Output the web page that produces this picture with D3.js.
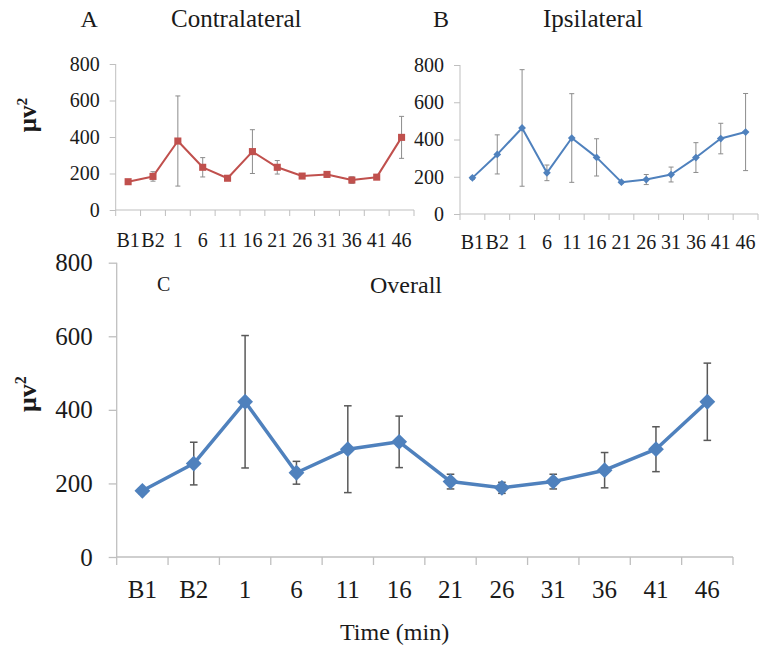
<!DOCTYPE html>
<html><head><meta charset="utf-8">
<script src="https://cdn.jsdelivr.net/npm/d3@7"></script>
<style>body{margin:0;background:#fff} svg text{font-family:'Liberation Serif','Times New Roman',serif;}</style></head>
<body>
<svg id="chart" width="761" height="649"></svg>
<script>
const categories = ["B1","B2","1","6","11","16","21","26","31","36","41","46"];
const yTickValues = [0,200,400,600,800];

const contralateralMean = [155, 184, 378, 234, 174, 320, 234, 186, 195, 164, 180, 398];
const contralateralErr  = [8, 26, 247, 53, 8, 120, 37, 8, 14, 18, 8, 115];

const ipsilateralMean = [194, 320, 462, 221, 408, 304, 171, 185, 212, 303, 405, 440];
const ipsilateralErr  = [8, 105, 313, 42, 238, 100, 5, 27, 40, 80, 82, 207];

const overallMean = [180, 254, 422, 229, 293, 313, 205, 188, 205, 236, 293, 422];
const overallErr  = [8, 58, 180, 31, 118, 70, 20, 15, 20, 48, 61, 105];

const serif = "'Liberation Serif','Times New Roman',serif";
const axisColor = "#bfbfbf";
const textColor = "#1a1a1a";
const svg = d3.select("#chart");

function panel(o){
  const g = svg.append("g");
  const x = d3.scaleBand().domain(categories).range([o.x0, o.x1]);
  const y = d3.scaleLinear().domain([0, 800]).range([o.yb, o.yt]);

  // y axis ticks + labels
  const ya = g.append("g").attr("transform", `translate(${o.x0},0)`)
    .call(d3.axisLeft(y).tickValues(yTickValues).tickSize(o.tick).tickPadding(o.ypad).tickSizeOuter(0));
  ya.attr("font-family", serif).attr("font-size", o.fs);
  ya.select(".domain").remove();
  ya.selectAll("line").attr("stroke", axisColor).attr("stroke-width", o.aw);
  ya.selectAll("text").style("font-family", serif).style("font-size", o.fs + "px").attr("fill", textColor);

  // axis lines
  g.append("line").attr("x1", o.x0).attr("x2", o.x0).attr("y1", y(0)).attr("y2", y(800))
    .attr("stroke", axisColor).attr("stroke-width", o.aw);
  g.append("line").attr("x1", o.x0).attr("x2", x.range()[1]).attr("y1", y(0)).attr("y2", y(0))
    .attr("stroke", axisColor).attr("stroke-width", o.aw);

  // x boundary ticks
  const bounds = categories.map(c => x(c)).concat([x.range()[1]]);
  g.selectAll(".xb").data(bounds).join("line")
    .attr("x1", d => d).attr("x2", d => d).attr("y1", y(0)).attr("y2", y(0) + o.tick)
    .attr("stroke", axisColor).attr("stroke-width", o.aw);

  // x labels
  const xa = g.append("g").attr("transform", `translate(0,${y(0)})`)
    .call(d3.axisBottom(x).tickSize(0).tickPadding(0));
  xa.attr("font-family", serif).attr("font-size", o.fs);
  xa.select(".domain").remove();
  xa.selectAll("text").attr("y", o.xlab).attr("dy", null)
    .style("font-family", serif).style("font-size", o.fs + "px").attr("fill", textColor);

  const cx = c => x(c) + x.bandwidth() / 2;
  const data = categories.map((c, i) => ({c, m: o.mean[i], e: o.err[i]}));

  // error bars
  const eb = g.append("g");
  eb.selectAll(".ev").data(data).join("line")
    .attr("x1", d => cx(d.c)).attr("x2", d => cx(d.c))
    .attr("y1", d => y(d.m - d.e)).attr("y2", d => y(d.m + d.e))
    .attr("stroke", o.errColor).attr("stroke-width", o.ew);
  ["top","bot"].forEach(k => {
    eb.selectAll(".ec" + k).data(data).join("line")
      .attr("x1", d => cx(d.c) - o.cap).attr("x2", d => cx(d.c) + o.cap)
      .attr("y1", d => y(k === "top" ? d.m + d.e : d.m - d.e))
      .attr("y2", d => y(k === "top" ? d.m + d.e : d.m - d.e))
      .attr("stroke", o.errColor).attr("stroke-width", o.ew);
  });

  // line
  g.append("path").datum(data)
    .attr("d", d3.line().x(d => cx(d.c)).y(d => y(d.m)))
    .attr("fill", "none").attr("stroke", o.color).attr("stroke-width", o.lw)
    .attr("stroke-linejoin", "round");

  // markers
  const sym = d3.symbol().type(d3.symbolSquare).size(o.msize);
  g.selectAll(".mk").data(data).join("path")
    .attr("d", sym)
    .attr("transform", d => `translate(${cx(d.c)},${y(d.m)}) rotate(${o.diamond ? 45 : 0})`)
    .attr("fill", o.color);

  // titles
  o.texts.forEach(t => {
    g.append("text").attr("x", t.x).attr("y", t.y).text(t.s)
      .style("font-family", serif).style("font-size", t.fs + "px").attr("fill", textColor);
  });

  if (o.ylabel) {
    const lab = g.append("text")
      .attr("transform", `translate(${o.ylabel.x},${o.ylabel.y}) rotate(-90)`)
      .attr("text-anchor", "middle").style("font-family", serif).attr("font-weight", "bold")
      .style("font-size", o.ylabel.fs + "px").attr("fill", textColor);
    lab.append("tspan").text("μv");
    lab.append("tspan").text("2").style("font-size", "0.62em").attr("dy", "-0.6em");
  }
}

panel({
  x0: 115.7, x1: 414, yb: 210, yt: 64, tick: 6, ypad: 10, fs: 20, xlab: 37, aw: 1,
  mean: contralateralMean, err: contralateralErr, color: "#c0504d",
  errColor: "#8c8c8c", ew: 1, cap: 2.5, lw: 2, msize: 50, diamond: false,
  texts: [{x: 80.5, y: 27, s: "A", fs: 24}, {x: 171, y: 27, s: "Contralateral", fs: 25}],
  ylabel: {x: 36, y: 115, fs: 25}
});

panel({
  x0: 460, x1: 758, yb: 214, yt: 65, tick: 6, ypad: 10, fs: 20, xlab: 35, aw: 1,
  mean: ipsilateralMean, err: ipsilateralErr, color: "#4f81bd",
  errColor: "#8c8c8c", ew: 1, cap: 2.5, lw: 2, msize: 30, diamond: true,
  texts: [{x: 433, y: 27, s: "B", fs: 24}, {x: 543, y: 27, s: "Ipsilateral", fs: 25}],
  ylabel: null
});

panel({
  x0: 116.7, x1: 733, yb: 557, yt: 262.7, tick: 8, ypad: 16, fs: 25, xlab: 41, aw: 1.3,
  mean: overallMean, err: overallErr, color: "#4f81bd",
  errColor: "#595959", ew: 1.5, cap: 3.8, lw: 3.5, msize: 125, diamond: true,
  texts: [{x: 157, y: 291, s: "C", fs: 20}, {x: 370, y: 293, s: "Overall", fs: 24},
          {x: 340, y: 640, s: "Time (min)", fs: 24}],
  ylabel: {x: 36, y: 394, fs: 26}
});
</script>
</body></html>
